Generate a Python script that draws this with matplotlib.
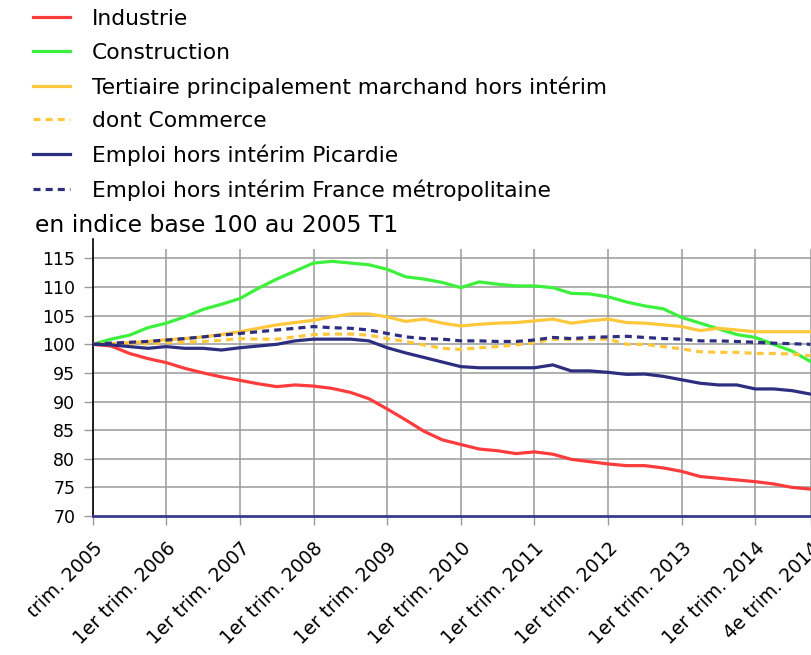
import numpy as np
import matplotlib
matplotlib.use("Agg")
import matplotlib.pyplot as plt
from matplotlib.transforms import Bbox, TransformedBbox

# quarterly index, base 100 = 2005 T1 (2005 T1 .. 2014 T4)
years = list(range(2005, 2015))
tick_labels = [f"1er trim. {y}" for y in years] + ["4e trim. 2014"]

industrie = [100, 99.7, 98.4, 97.5, 96.8, 95.8, 95.0, 94.3, 93.7, 93.1,
             92.6, 92.9, 92.7, 92.3, 91.6, 90.5, 88.7, 86.8, 84.8, 83.3,
             82.5, 81.7, 81.4, 80.9, 81.2, 80.8, 79.9, 79.5, 79.1, 78.8,
             78.8, 78.4, 77.8, 76.9, 76.6, 76.3, 76.0, 75.6, 75.0, 74.7]

construction = [100, 100.9, 101.6, 102.9, 103.7, 104.8, 106.1, 107.0, 108.0, 109.8,
                111.4, 112.8, 114.2, 114.5, 114.2, 113.9, 113.1, 111.8, 111.4, 110.8,
                109.9, 110.9, 110.5, 110.2, 110.2, 109.9, 108.9, 108.8, 108.3, 107.4,
                106.7, 106.2, 104.7, 103.7, 102.7, 101.7, 101.2, 100.0, 98.8, 97.0]

tertiaire = [100, 100.1, 100.3, 100.5, 100.8, 101.0, 101.3, 101.7, 102.2, 102.8,
             103.4, 103.8, 104.2, 104.8, 105.3, 105.3, 104.8, 104.0, 104.4, 103.7,
             103.2, 103.5, 103.7, 103.8, 104.1, 104.4, 103.7, 104.1, 104.4, 103.8,
             103.7, 103.4, 103.1, 102.4, 102.8, 102.5, 102.2, 102.2, 102.2, 102.2]

commerce = [100, 100.1, 100.2, 100.1, 100.3, 100.4, 100.5, 100.7, 101.0, 100.9,
            100.9, 101.3, 101.7, 101.8, 101.8, 101.6, 101.0, 100.5, 99.9, 99.3,
            99.1, 99.4, 99.6, 99.9, 100.3, 100.9, 100.8, 100.9, 100.9, 100.0,
            100.0, 99.6, 99.2, 98.7, 98.6, 98.6, 98.4, 98.4, 98.3, 98.0]

picardie = [100, 99.9, 99.6, 99.3, 99.6, 99.3, 99.3, 99.0, 99.4, 99.7,
            100.0, 100.6, 100.9, 100.9, 100.9, 100.6, 99.4, 98.5, 97.7, 96.9,
            96.1, 95.9, 95.9, 95.9, 95.9, 96.4, 95.35, 95.35, 95.1, 94.75,
            94.8, 94.4, 93.8, 93.2, 92.9, 92.9, 92.2, 92.2, 91.9, 91.3]

france = [100, 100.2, 100.35, 100.5, 100.75, 101.0, 101.3, 101.6, 101.9, 102.2,
          102.5, 102.8, 103.1, 102.9, 102.8, 102.5, 101.9, 101.3, 101.0, 100.9,
          100.6, 100.6, 100.5, 100.5, 100.75, 101.2, 101.0, 101.2, 101.3, 101.4,
          101.2, 101.0, 100.9, 100.6, 100.6, 100.5, 100.35, 100.2, 100.1, 100.0]

x = np.arange(len(industrie))
tick_pos = list(range(0, 40, 4)) + [39]

red = "#ff3c3c"
green = "#3cf03c"
yellow = "#ffc83c"
navy = "#2e2e80"

plt.rcParams["font.family"] = ["DejaVu Sans"]

fig = plt.figure(figsize=(8.12, 6.55), dpi=100)
ax = fig.add_axes([92.7 / 812, 1 - 516 / 655, 1 - 92.7 / 812 - 1.5 / 812, (516 - 239) / 655])

ax.set_xlim(0, 39)
ax.set_ylim(70, 118.4)

# grid
for yv in range(75, 120, 5):
    ax.axhline(yv, color="#9a9a9a", lw=1.1, zorder=1)
ax.vlines(tick_pos, 70, 116.6, color="#9a9a9a", lw=1.1, zorder=1)

lw = 2.3
dash = (0, (2.2, 1.6))
ax.plot(x, industrie, color=red, lw=lw, label="Industrie", zorder=3)
ax.plot(x, construction, color=green, lw=lw, label="Construction", zorder=3)
ax.plot(x, tertiaire, color=yellow, lw=lw,
        label="Tertiaire principalement marchand hors intérim", zorder=3)
ax.plot(x, commerce, color=yellow, lw=lw, ls=dash,
        label="dont Commerce", zorder=3)
ax.plot(x, picardie, color=navy, lw=lw, label="Emploi hors intérim Picardie", zorder=3)
ax.plot(x, france, color=navy, lw=lw, ls=dash,
        label="Emploi hors intérim France métropolitaine", zorder=3)

for s in ["top", "right"]:
    ax.spines[s].set_visible(False)
ax.spines["left"].set_color("black")
ax.spines["left"].set_linewidth(1.2)
ax.spines["bottom"].set_color("#3a3a90")
ax.spines["bottom"].set_linewidth(2)
ax.spines["bottom"].set_zorder(4)

ax.set_yticks(range(70, 120, 5))
ax.tick_params(axis="y", length=6.5, width=1, color="#9a9a9a", pad=6, labelsize=12.5)
ax.set_xticks(tick_pos)
ax.set_xticklabels(tick_labels, rotation=45, ha="right", rotation_mode="anchor",
                   fontsize=13.5)
ax.tick_params(axis="x", length=6.5, width=1, color="#9a9a9a", pad=10)

# the first label is cut at the chart's left border in the original
clip = TransformedBbox(Bbox([[28 / 812, 0], [1, 1]]), fig.transFigure)
for lbl in ax.get_xticklabels():
    lbl.set_clip_box(clip)
    lbl.set_clip_on(True)

fig.legend(loc="upper left", bbox_to_anchor=(33 / 812, 1 - 9 / 655),
           frameon=False, fontsize=15.7, handlelength=1.7, handletextpad=1.0,
           labelspacing=0.62, borderpad=0, borderaxespad=0)

fig.text(35 / 812, 1 - 225 / 655, "en indice base 100 au 2005 T1",
         fontsize=16.9, va="center", ha="left")

fig.savefig("out.png", dpi=100)
